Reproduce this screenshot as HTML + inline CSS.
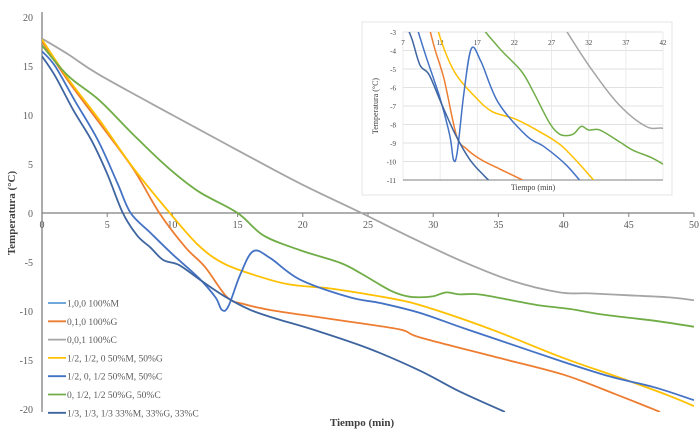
<!DOCTYPE html>
<html><head><meta charset="utf-8">
<style>
html,body{margin:0;padding:0;background:#fff;}
svg{display:block;font-family:"Liberation Serif",serif;}
</style></head>
<body>
<svg id="chart" width="700" height="437" viewBox="0 0 700 437" xmlns="http://www.w3.org/2000/svg">
<defs><clipPath id="insetClip"><rect x="403" y="32" width="260" height="148"/></clipPath>
<clipPath id="mainClip"><rect x="42" y="10" width="652" height="402"/></clipPath></defs>
<g id="main"></g>
<g id="inset"></g>
<g id="legend"></g>
</svg>
<script>
const seriesNames = ["1,0,0  100%M","0,1,0 100%G","0,0,1 100%C","1/2, 1/2, 0 50%M, 50%G","1/2, 0, 1/2 50%M, 50%C","0, 1/2, 1/2 50%G, 50%C","1/3, 1/3, 1/3 33%M, 33%G, 33%C"];
const seriesColors = ["#5b9bd5","#ed7d31","#a5a5a5","#ffc000","#4472c4","#70ad47","#3e65a0"];
const s0 = [];
const s1 = [[0,17.5],[2,13.5],[4.4,9.2],[7,4.5],[9,0],[11,-3.5],[12.5,-5.5],[14.2,-8.6],[15.5,-9.3],[17.5,-9.9],[20,-10.4],[23.6,-11.1],[27.5,-11.9],[29,-12.7],[35.1,-14.8],[40,-16.5],[44,-18.5],[47.4,-20.3]];
const s2 = [[0,17.8],[2,16.2],[4.4,14.1],[10,10],[15,6.4],[19.8,3.0],[24.5,0],[28,-2.3],[32,-4.8],[36,-6.9],[39.7,-8.1],[42,-8.2],[45,-8.4],[48,-8.6],[50,-8.9]];
const s3 = [[0,17.7],[2,13.7],[4.4,9.5],[7,4.6],[9.8,0],[12,-3.3],[14,-5.2],[16.7,-6.5],[19,-7.3],[22.1,-7.7],[25,-8.3],[27.5,-8.9],[29,-9.4],[32,-10.7],[35.1,-12.2],[40,-14.8],[44.3,-16.8],[48,-18.6],[50,-19.7]];
const s4 = [[0,16.5],[1,15],[2.5,11.5],[4.3,7.4],[5.8,3],[6.8,0],[8.3,-2.0],[10,-4.2],[12,-6.6],[13.3,-8.6],[13.8,-9.9],[14.3,-9.5],[15.2,-6.3],[16.2,-3.9],[17.5,-4.6],[19.8,-6.8],[23.6,-8.6],[26,-9.2],[29,-10.2],[32,-11.6],[35.1,-13],[40,-15.2],[43.6,-16.7],[47,-17.8],[50,-19.1]];
const s5 = [[0,17.1],[2,14],[4.4,11.5],[7,8],[9.6,4.7],[12,2.2],[15,0],[17,-2.3],[19.8,-3.8],[22.9,-5.1],[24.5,-6.2],[26.7,-7.9],[28,-8.5],[29,-8.6],[30,-8.5],[31,-8.1],[32,-8.3],[33.5,-8.3],[36,-8.9],[38,-9.4],[40.5,-9.8],[43.2,-10.4],[47,-11],[50,-11.6]];
const s6 = [[0,16],[1,14],[2.4,10.5],[3.8,7.4],[5,4],[6.2,0],[7.3,-2.3],[8.3,-3.5],[9.3,-4.8],[10.5,-5.3],[12.1,-6.8],[14,-8.5],[16,-9.9],[18,-10.8],[20.8,-11.9],[25,-13.8],[29,-16.1],[32,-18.2],[35.5,-20.3]];
const allSeries = [s0,s1,s2,s3,s4,s5,s6];
const mainXTicks = [0,5,10,15,20,25,30,35,40,45,50];
const mainYTicks = [20,15,10,5,0,-5,-10,-15,-20];
const insetXTicks = [7,12,17,22,27,32,37,42];
const insetYTicks = [-3,-4,-5,-6,-7,-8,-9,-10,-11];

const NS="http://www.w3.org/2000/svg";
function mk(tag,attrs,parent,text){const e=document.createElementNS(NS,tag);for(const k in attrs)e.setAttribute(k,attrs[k]);if(text!==undefined)e.textContent=text;parent.appendChild(e);return e;}
const mx=t=>42+t*(652/50);
const my=v=>213-v*9.8;
const ix=t=>403+(t-7)*(260/35);
const iy=v=>32+(-3-v)*(148/8);
function smooth(pts){
  let d='M'+pts[0][0]+','+pts[0][1];
  for(let i=0;i<pts.length-1;i++){
    const p0=pts[Math.max(0,i-1)],p1=pts[i],p2=pts[i+1],p3=pts[Math.min(pts.length-1,i+2)];
    const c1x=p1[0]+(p2[0]-p0[0])/6,c1y=p1[1]+(p2[1]-p0[1])/6;
    const c2x=p2[0]-(p3[0]-p1[0])/6,c2y=p2[1]-(p3[1]-p1[1])/6;
    d+=' C'+c1x+','+c1y+' '+c2x+','+c2y+' '+p2[0]+','+p2[1];
  }
  return d;
}

const main=document.getElementById('main');
let a=mk('line',{x1:42,y1:12,x2:42,y2:412,stroke:'#7f7f7f','stroke-width':1.3},main);


a=mk('line',{x1:42,y1:my(0),x2:694,y2:my(0),stroke:'#7f7f7f','stroke-width':1.3},main);


mainXTicks.forEach(t=>{const l=mk('line',{x1:mx(t),y1:my(0),x2:mx(t),y2:my(0)+4,stroke:'#7f7f7f'},main);


const tx=mk('text',{x:mx(t),y:my(0)+15,'text-anchor':'middle','font-size':10,fill:'#595959'},main,String(t));

});
mainYTicks.forEach(v=>{const tx=mk('text',{x:33,y:my(v)+4,'text-anchor':'end','font-size':10,fill:'#595959'},main,String(v));

});
let t1=mk('text',{x:0,y:0,transform:'translate(15,213) rotate(-90)','text-anchor':'middle','font-size':11,'font-weight':'bold',fill:'#404040'},main,'Temperatura (°C)');


t1=mk('text',{x:362,y:426,'text-anchor':'middle','font-size':11,'font-weight':'bold',fill:'#404040'},main,'Tiempo (min)');


const mg=mk('g',{'clip-path':'url(#mainClip)'},main);
allSeries.forEach((s,i)=>{if(!s.length)return;const p=mk('path',{d:smooth(s.map(d=>[mx(d[0]),my(d[1])])),fill:'none',stroke:seriesColors[i],'stroke-width':1.8,'stroke-linejoin':'round'},mg);

});

const ins=document.getElementById('inset');
const bg=mk('rect',{x:362,y:22,width:310,height:173,fill:'#fff',stroke:'#e4e4e4'},ins);


insetYTicks.forEach(v=>{const l=mk('line',{x1:403,y1:iy(v),x2:663,y2:iy(v),stroke:'#d9d9d9','stroke-width':0.8},ins);


const tx=mk('text',{x:396,y:iy(v)+3,'text-anchor':'end','font-size':7,fill:'#404040'},ins,String(v));

});
insetXTicks.forEach(t=>{const l=mk('line',{x1:ix(t),y1:32,x2:ix(t),y2:180,stroke:'#e6e6e6','stroke-width':0.8},ins);


const tx=mk('text',{x:ix(t),y:45,'text-anchor':'middle','font-size':7,fill:'#404040'},ins,String(t));

});
a=mk('line',{x1:403,y1:180,x2:663,y2:180,stroke:'#7f7f7f'},ins);


t1=mk('text',{x:0,y:0,transform:'translate(378,106) rotate(-90)','text-anchor':'middle','font-size':8,fill:'#404040'},ins,'Temperatura (°C)');


t1=mk('text',{x:533,y:190,'text-anchor':'middle','font-size':8,fill:'#404040'},ins,'Tiempo (min)');


const ig=mk('g',{'clip-path':'url(#insetClip)'},ins);
allSeries.forEach((s,i)=>{if(!s.length)return;const p=mk('path',{d:smooth(s.map(d=>[ix(d[0]),iy(d[1])])),fill:'none',stroke:seriesColors[i],'stroke-width':1.5,'stroke-linejoin':'round'},ig);

});

const lg=document.getElementById('legend');
seriesNames.forEach((n,i)=>{const y=303+i*18.3;
const e=mk('g',{},lg);


mk('line',{x1:48,y1:y,x2:66,y2:y,stroke:seriesColors[i],'stroke-width':1.8},e);
mk('text',{x:67,y:y+3.5,'font-size':9.5,fill:'#595959'},e,n);});
</script>
</body></html>
